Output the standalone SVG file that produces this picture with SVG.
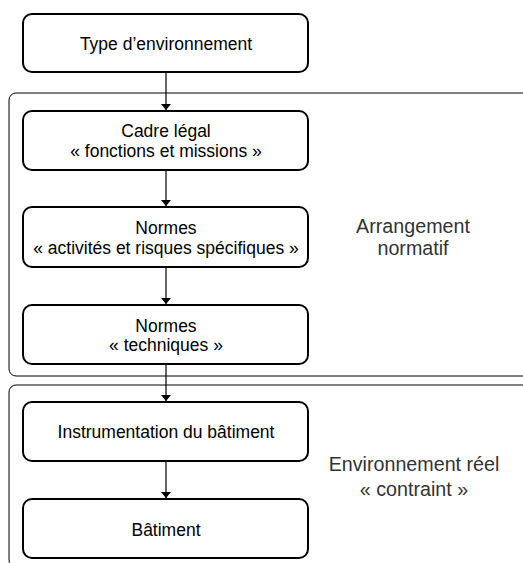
<svg xmlns="http://www.w3.org/2000/svg" width="523" height="563" viewBox="0 0 523 563">
<style>
.grp{fill:none;stroke:#000;stroke-width:1}
.node rect{fill:#fff;stroke:#000;stroke-width:2}
.node text{font-family:"Liberation Sans",Arial,sans-serif;font-size:17.5px;fill:#000;text-anchor:middle}
.lbl{font-family:"Liberation Sans",Arial,sans-serif;font-size:19.7px;fill:#333;text-anchor:middle}
.edge{stroke:#000;stroke-width:1.2;fill:none;marker-end:url(#ah)}
</style>
<defs>
<marker id="ah" viewBox="0 0 6 10" refX="6" refY="5" markerWidth="6" markerHeight="10" markerUnits="userSpaceOnUse" orient="auto">
<path d="M0,0 L6,5 L0,10 Z" fill="#000"/>
</marker>
</defs>
<g id="groups">
<rect id="grp-normatif" class="grp" x="9" y="93" width="530" height="283" rx="7"/>
<rect id="grp-reel" class="grp" x="9" y="385" width="530" height="182" rx="7"/>
<text class="lbl" x="413" y="233">Arrangement</text>
<text class="lbl" x="413" y="255">normatif</text>
<text class="lbl" x="414" y="471">Environnement réel</text>
<text class="lbl" x="414" y="496">« contraint »</text>
</g>
<g id="connectors">
<path class="edge" d="M166,73 V110"/>
<path class="edge" d="M166,171 V206"/>
<path class="edge" d="M166,268 V304"/>
<path class="edge" d="M166,365 V401"/>
<path class="edge" d="M166,462 V498"/>
</g>
<g id="n1" class="node"><rect x="23" y="14" width="285" height="58" rx="9"/><text x="166" y="50">Type d’environnement</text></g>
<g id="n2" class="node"><rect x="23" y="111" width="285" height="59" rx="9"/><text x="166" y="137">Cadre légal</text><text x="166" y="157">« fonctions et missions »</text></g>
<g id="n3" class="node"><rect x="23" y="207" width="285" height="60" rx="9"/><text x="166" y="234">Normes</text><text x="166" y="254">« activités et risques spécifiques »</text></g>
<g id="n4" class="node"><rect x="23" y="305" width="285" height="59" rx="9"/><text x="166" y="332">Normes</text><text x="166" y="351">« techniques »</text></g>
<g id="n5" class="node"><rect x="23" y="402" width="285" height="59" rx="9"/><text x="166" y="438">Instrumentation du bâtiment</text></g>
<g id="n6" class="node"><rect x="23" y="499" width="285" height="59" rx="9"/><text x="166" y="536">Bâtiment</text></g>
</svg>
